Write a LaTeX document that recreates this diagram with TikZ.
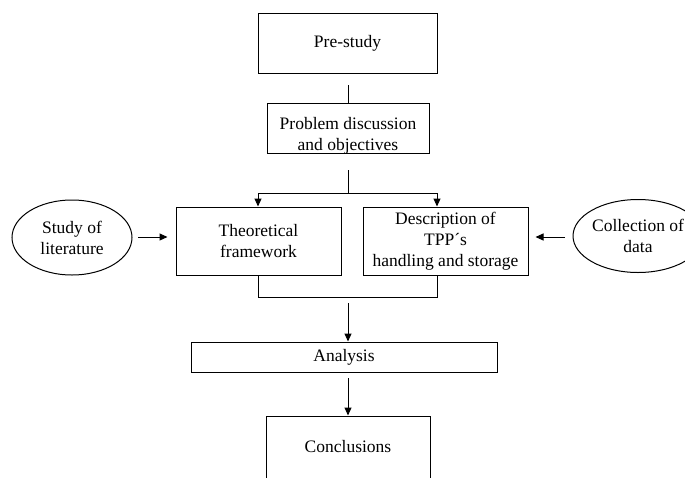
\documentclass[tikz,border=0pt]{standalone}
\usepackage{fontspec}
\setmainfont{Liberation Serif}
\usetikzlibrary{arrows.meta,shapes.geometric}
\begin{document}
\begin{tikzpicture}[x=1pt,y=-1pt,
  every node/.style={font=\fontsize{17.5}{21}\selectfont, align=center, inner sep=0pt},
  box/.style={draw, line width=1pt, rectangle},
  oval/.style={draw, line width=1pt, ellipse},
  conn/.style={line width=1pt},
  arr/.style={line width=1pt, -{Triangle[length=8pt,width=7pt]}}]
\useasboundingbox (0,0) rectangle (685,477);
% boxes
\node[box, minimum width=179, minimum height=60] (pre) at (347.5,43) {Pre-study};
\node[box, minimum width=162, minimum height=50] (prob) at (348,128) {};
\node (probt) at (348,136) {Problem discussion\\and objectives};
\node[box, minimum width=165, minimum height=68] (theo) at (258.5,241) {Theoretical\\framework};
\node[box, minimum width=165, minimum height=68] (desc) at (445.5,241) {Description of\\TPP´s\\handling and storage};
\node[box, minimum width=306, minimum height=30] (ana) at (344,357) {Analysis};
\node[box, minimum width=164, minimum height=66] (conc) at (348,449) {};
\node (conct) at (348,447) {Conclusions};
\node[oval, minimum width=120, minimum height=75] (lit) at (72,237.5) {Study of\\literature};
\node[oval, minimum width=130, minimum height=73] (data) at (638,236) {Collection of\\data};
% connector coordinates
\coordinate (s1) at (348,85);
\coordinate (s2) at (348,170);
\coordinate (j) at (348,193);
\coordinate (jl) at (258,193);
\coordinate (jr) at (437,193);
\coordinate (ml) at (258,297);
\coordinate (mr) at (437,297);
\coordinate (m1) at (348,303);
\coordinate (a1) at (348,378);
\coordinate (l1) at (138,237);
\coordinate (r1) at (565,237);
% connectors
\draw[conn] (s1) -- (prob.north);
\draw[conn] (s2) -- (j);
\draw[arr] (j) -- (jl) -- (jl |- theo.north);
\draw[arr] (j) -- (jr) -- (jr |- desc.north);
\draw[conn] (ml |- theo.south) -- (ml) -- (mr) -- (mr |- desc.south);
\draw[arr] (m1) -- (m1 |- ana.north);
\draw[arr] (a1) -- (a1 |- conc.north);
\draw[arr] (l1) -- ([xshift=-8pt]l1 -| theo.west);
\draw[arr] (r1) -- ([xshift=7pt]r1 -| desc.east);
\end{tikzpicture}
\end{document}
